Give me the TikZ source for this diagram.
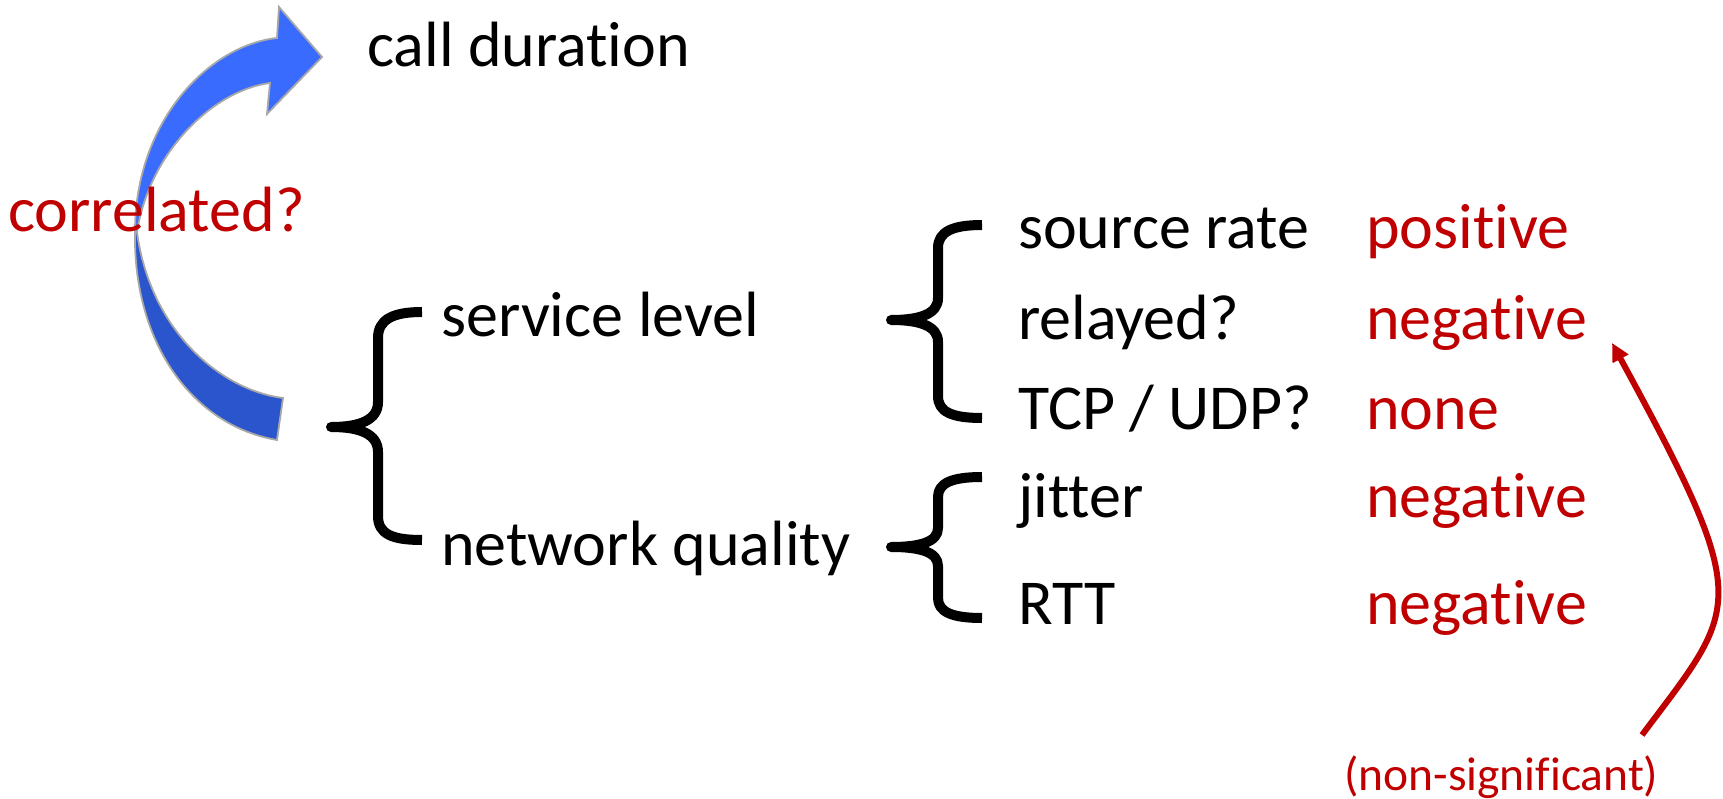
\documentclass[tikz,border=0pt]{standalone}
\usepackage{fontspec}
\setmainfont{Carlito}[Ligatures=NoCommon, RawFeature={-liga}]
\usetikzlibrary{arrows.meta}
\definecolor{darkred}{HTML}{C00000}
\definecolor{arrowfront}{HTML}{3A6BFF}
\definecolor{arrowback}{HTML}{2A55CC}
\definecolor{arrowedge}{HTML}{A8A8A8}
\tikzset{
  lbl/.style={inner sep=0pt, anchor=base west, font=\fontsize{64}{77}\selectfont},
  res/.style={lbl, text=darkred},
  bracepath/.style={draw=black, line width=10pt, line cap=butt, line join=round},
  bluearrow/.style={draw=arrowedge, line width=1.8pt, line join=miter},
  sigarrow/.style={draw=darkred, line width=6pt, -{Triangle[length=18pt,width=17pt]}}
}
\begin{document}
\begin{tikzpicture}[x=1pt, y=-1pt]
\useasboundingbox (0,0) rectangle (1723,799);

% curved arrow: back (lower) half, then front (upper) half with its head
\path[bluearrow, fill=arrowback]
  (135,232) .. controls (133,340) and (190,425) .. (277,440)
  -- (283,398) .. controls (220,390) and (150,330) .. (137,232) -- cycle;
\path[bluearrow, fill=arrowfront]
  (135,232) .. controls (135,120) and (210,45) .. (277,38)
  -- (279,7) -- (322,57) -- (267,114) -- (270,83)
  .. controls (215,90) and (150,150) .. (137,232) -- cycle;

% top level
\node[lbl] (dur) at (367,67) {call duration};
\node[res] (corr) at (8,232) {correlated?};

% first brace and its two branches
\path[bracepath]
  (422,312) .. controls (392,312) and (378,320) .. (378,338)
  -- (378,402) .. controls (378,420) and (360,427) .. (331,427)
  .. controls (360,427) and (378,434) .. (378,452)
  -- (378,516) .. controls (378,534) and (392,540) .. (422,540);
\node[lbl] (svc) at (441,337) {service level};
\node[lbl] (net) at (441,565) {network quality};

% service level brace
\path[bracepath]
  (982,225) .. controls (952,225) and (938,232) .. (938,248)
  -- (938,298) .. controls (938,314) and (920,320) .. (891,320)
  .. controls (920,320) and (938,326) .. (938,342)
  -- (938,396) .. controls (938,412) and (952,418) .. (982,418);
% network quality brace
\path[bracepath]
  (982,477) .. controls (952,477) and (938,483) .. (938,497)
  -- (938,528) .. controls (938,542) and (920,547) .. (891,547)
  .. controls (920,547) and (938,552) .. (938,566)
  -- (938,598) .. controls (938,612) and (952,618) .. (982,618);

% factors
\node[lbl] (src) at (1018,249) {source rate};
\node[lbl] (rel) at (1018,339) {relayed?};
\node[lbl] (tcp) at (1018,429) {TCP / UDP?};
\node[lbl] (jit) at (1018,517) {jitter};
\node[lbl] (rtt) at (1018,624) {RTT};

% correlation signs
\node[res] (r-src) at (1366,249) {positive};
\node[res] (r-rel) at (1366,339) {negative};
\node[res] (r-tcp) at (1366,429) {none};
\node[res] (r-jit) at (1366,517) {negative};
\node[res] (r-rtt) at (1366,624) {negative};

% note on the relayed result
\node[inner sep=0pt, anchor=base west, text=darkred, font=\fontsize{47.5}{57}\selectfont]
  (ns) at (1344,790) {(non-significant)};
\coordinate (ns-tail) at (1642,735);
\coordinate (ns-head) at (1612,343);
\draw[sigarrow] (ns-tail) .. controls (1740,604) and (1755,606) .. (ns-head);
\end{tikzpicture}
\end{document}
